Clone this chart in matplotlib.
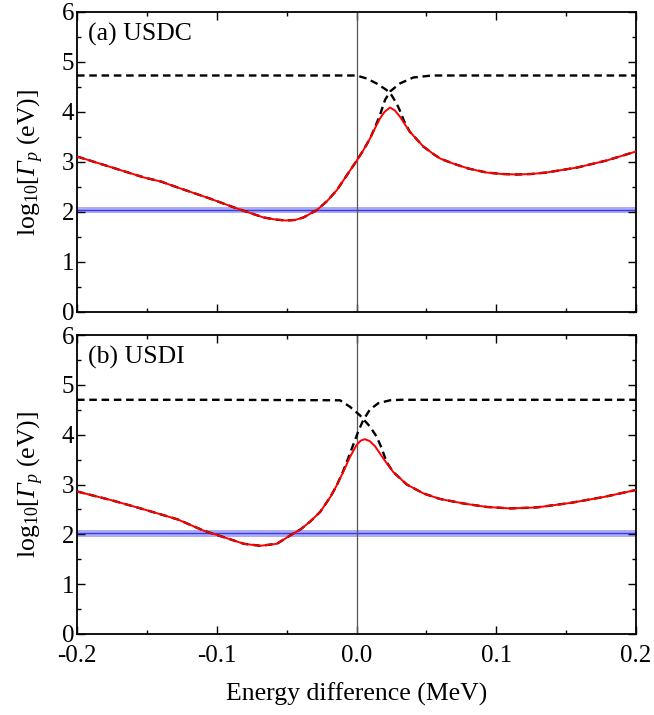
import matplotlib
matplotlib.use("Agg")
import matplotlib.pyplot as plt
from matplotlib.ticker import MultipleLocator

plt.rcParams['font.family'] = ['Liberation Serif', 'DejaVu Serif']
plt.rcParams['mathtext.fontset'] = 'custom'
plt.rcParams['mathtext.rm'] = 'Liberation Serif'
plt.rcParams['mathtext.it'] = 'Liberation Serif:italic'
plt.rcParams['mathtext.sf'] = 'Liberation Serif:italic'
plt.rcParams['axes.unicode_minus'] = False

# ---------------- data: panel (a) USDC ----------------
a_red_x = [-0.2, -0.176, -0.152, -0.14, -0.128, -0.105, -0.0855, -0.0664, -0.058, -0.051,
           -0.044, -0.038, -0.0283, -0.021, -0.014, -0.0044, 0.0, 0.005, 0.0097, 0.0135,
           0.0168, 0.020, 0.024, 0.0275, 0.031, 0.038, 0.0478, 0.055, 0.0598, 0.069,
           0.080, 0.093, 0.104, 0.115, 0.125, 0.136, 0.147, 0.158, 0.179, 0.2]
a_red_y = [3.11, 2.90, 2.69, 2.61, 2.49, 2.27, 2.07, 1.89, 1.85, 1.83,
           1.84, 1.89, 2.04, 2.22, 2.44, 2.84, 3.02, 3.24, 3.47, 3.69,
           3.87, 4.00, 4.09, 4.03, 3.91, 3.61, 3.31, 3.16, 3.07, 2.97,
           2.87, 2.79, 2.76, 2.75, 2.76, 2.79, 2.84, 2.89, 3.03, 3.21]

a_d1_x = [-0.2, -0.1, 0.0, 0.0073, 0.0144, 0.0215, 0.025, 0.0287, 0.031, 0.034,
          0.038, 0.0478, 0.055, 0.0598, 0.069, 0.080, 0.093, 0.104, 0.115, 0.125,
          0.136, 0.147, 0.158, 0.179, 0.2]
a_d1_y = [4.73, 4.73, 4.73, 4.67, 4.57, 4.44, 4.34, 4.17, 4.03, 3.82,
          3.61, 3.31, 3.16, 3.07, 2.97, 2.87, 2.79, 2.76, 2.75, 2.76,
          2.79, 2.84, 2.89, 3.03, 3.21]

a_d2_x = [-0.2, -0.176, -0.152, -0.14, -0.128, -0.105, -0.0855, -0.0664, -0.058, -0.051,
          -0.044, -0.038, -0.0283, -0.021, -0.014, -0.0044, 0.0, 0.005, 0.0097, 0.0135,
          0.0168, 0.0204, 0.024, 0.031, 0.0406, 0.054, 0.1, 0.2]
a_d2_y = [3.11, 2.90, 2.69, 2.61, 2.49, 2.27, 2.07, 1.89, 1.85, 1.83,
          1.84, 1.89, 2.04, 2.22, 2.44, 2.84, 3.02, 3.24, 3.47, 3.71,
          3.94, 4.24, 4.41, 4.57, 4.69, 4.73, 4.73, 4.73]

a_band = (1.974, 2.106)
a_center = 2.04

# ---------------- data: panel (b) USDI ----------------
b_red_x = [-0.2, -0.176, -0.152, -0.128, -0.109, -0.0925, -0.0806, -0.0688, -0.057, -0.045,
           -0.04, -0.033, -0.026, -0.0187, -0.0142, -0.0095, -0.0047, 0.0, 0.003, 0.006,
           0.0095, 0.0132, 0.019, 0.0263, 0.036, 0.048, 0.0597, 0.0764, 0.093, 0.11,
           0.129, 0.153, 0.177, 0.2]
b_red_y = [2.86, 2.69, 2.50, 2.30, 2.07, 1.92, 1.81, 1.77, 1.81, 2.02,
           2.10, 2.26, 2.45, 2.75, 2.98, 3.25, 3.55, 3.79, 3.88, 3.91,
           3.87, 3.77, 3.53, 3.25, 3.00, 2.82, 2.71, 2.62, 2.55, 2.52,
           2.54, 2.63, 2.75, 2.89]

b_d1_x = [-0.2, -0.1, -0.0118, -0.0047, 0.0024, 0.0097, 0.0144, 0.018, 0.0215, 0.0263,
          0.036, 0.048, 0.0597, 0.0764, 0.093, 0.11, 0.129, 0.153, 0.177, 0.2]
b_d1_y = [4.70, 4.70, 4.69, 4.56, 4.39, 4.16, 3.96, 3.73, 3.45, 3.25,
          3.00, 2.82, 2.71, 2.62, 2.55, 2.52, 2.54, 2.63, 2.75, 2.89]

b_d2_x = [-0.2, -0.176, -0.152, -0.128, -0.109, -0.0925, -0.0806, -0.0688, -0.057, -0.045,
          -0.04, -0.033, -0.026, -0.0187, -0.0142, -0.0095, -0.0047, 0.0012, 0.0048, 0.0095,
          0.0155, 0.024, 0.032, 0.1, 0.2]
b_d2_y = [2.86, 2.69, 2.50, 2.30, 2.07, 1.92, 1.81, 1.77, 1.81, 2.02,
          2.10, 2.26, 2.45, 2.75, 2.98, 3.27, 3.62, 4.06, 4.29, 4.50,
          4.63, 4.69, 4.70, 4.70, 4.70]

b_band = (1.954, 2.088)
b_center = 2.03

x_ticks = [-0.2, -0.1, 0.0, 0.1, 0.2]
x_ticklabels = ['-0.2', '-0.1', '0.0', '0.1', '0.2']
y_ticks = [0, 1, 2, 3, 4, 5, 6]

panels = [
    ("(a) USDC", a_red_x, a_red_y, a_d1_x, a_d1_y, a_d2_x, a_d2_y, a_band, a_center),
    ("(b) USDI", b_red_x, b_red_y, b_d1_x, b_d1_y, b_d2_x, b_d2_y, b_band, b_center),
]

fig = plt.figure(figsize=(6.54, 7.15), dpi=100)
rects = [[77/654, 1 - 312/715, 559/654, 300/715],
         [77/654, 1 - 634/715, 559/654, 299/715]]

FS = 18.5
TS = 18
for i, (label, rx, ry, d1x, d1y, d2x, d2y, band, center) in enumerate(panels):
    ax = fig.add_axes(rects[i])
    ax.set_xlim(-0.2, 0.2)
    ax.set_ylim(0, 6)
    ax.axhspan(band[0], band[1], color='#8f8ff5', alpha=0.75, lw=0, zorder=1)
    ax.axhline(center, color='#3b3be0', lw=1.0, zorder=2)
    ax.axvline(0.0, color='#555555', lw=0.9, zorder=2)
    ax.plot(d1x, d1y, color='black', lw=1.7, ls=(0, (3.2, 2.0)), zorder=3)
    ax.plot(d2x, d2y, color='black', lw=1.7, ls=(0, (3.2, 2.0)), zorder=3)
    ax.plot(rx, ry, color='#ff0000', lw=1.4, zorder=4)

    ax.set_xticks(x_ticks)
    ax.xaxis.set_minor_locator(MultipleLocator(0.05))
    ax.set_yticks(y_ticks)
    ax.yaxis.set_minor_locator(MultipleLocator(0.5))
    ax.tick_params(which='both', direction='in', top=True, right=True, width=1.0,
                   labelsize=TS)
    ax.tick_params(axis='y', pad=2)
    ax.tick_params(axis='x', pad=8)
    ax.tick_params(which='major', length=6)
    ax.tick_params(which='minor', length=3)
    for s in ax.spines.values():
        s.set_linewidth(1.3)
    if i == 0:
        ax.set_xticklabels([])
    else:
        ax.set_xticklabels(x_ticklabels)
        ax.set_xlabel('Energy difference (MeV)', fontsize=FS, labelpad=11)
    ax.set_ylabel(r'log$_{10}$[$\mathsf{Γ}_p$ (eV)]', fontsize=FS, labelpad=11)
    ax.text(0.02, 0.925, label, transform=ax.transAxes, fontsize=FS,
            ha='left', va='center')

fig.savefig('out.png', dpi=100)
